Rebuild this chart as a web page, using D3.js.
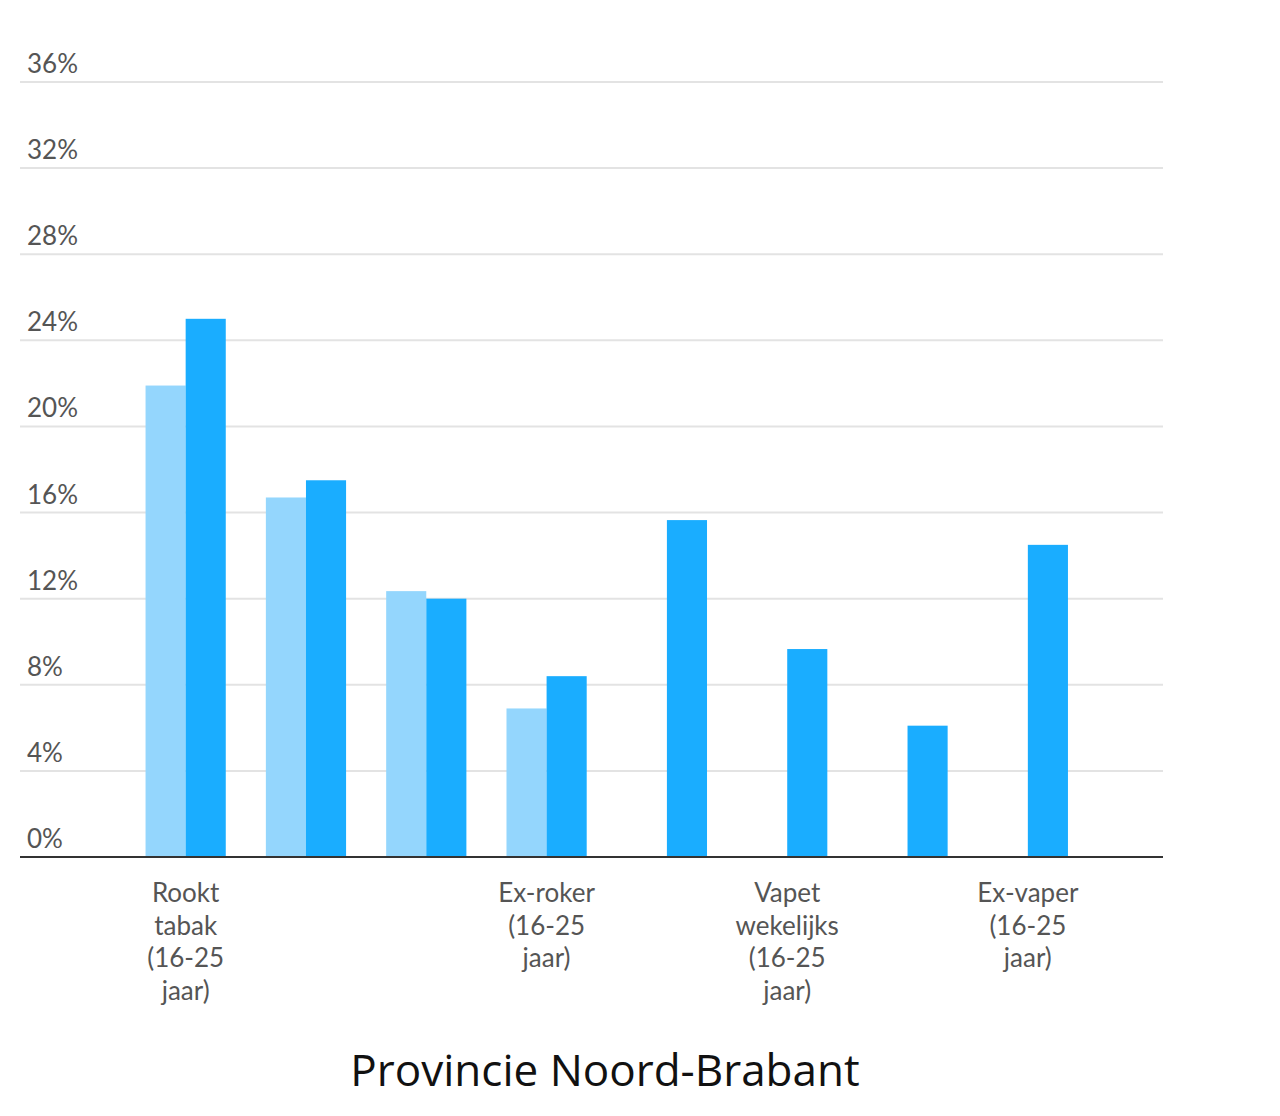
<!DOCTYPE html>
<html><head><meta charset="utf-8">
<script src="https://cdn.jsdelivr.net/npm/d3@7"></script>
<style>body{margin:0;background:#fff}svg{display:block}</style>
</head><body>
<svg id="c" width="1280" height="1116"></svg>
<script>
const categories = [
  "Rookt tabak (16-25 jaar)",
  "Rookt dagelijks (16-25 jaar)",
  "Rookt wekelijks (16-25 jaar)",
  "Ex-roker (16-25 jaar)",
  "Vapet ooit (16-25 jaar)",
  "Vapet wekelijks (16-25 jaar)",
  "Vapet dagelijks (16-25 jaar)",
  "Ex-vaper (16-25 jaar)"
];
const shownLabels = [true, false, false, true, false, true, false, true];
const seriesNames = ["Eerder", "Recent"];
const seriesLight = [21.9, 16.7, 12.35, 6.9, null, null, null, null];
const seriesDark  = [25.0, 17.5, 12.0, 8.4, 15.65, 9.66, 6.1, 14.5];
const yTicks = [0, 4, 8, 12, 16, 20, 24, 28, 32, 36];
const subtitle = "Provincie Noord-Brabant";
const colors = ["#94d6fd", "#1aadff"];

const svg = d3.select("#c");
const x = d3.scaleBand().domain(categories).range([125.5, 1088]).paddingInner(1/3).paddingOuter(1/6);
const xs = d3.scaleBand().domain(seriesNames).range([0, x.bandwidth()]);
const y = d3.scaleLinear().domain([0, 36]).range([857, 82]);

// gridlines
svg.append("g").selectAll("line").data(yTicks.filter(t => t > 0)).join("line")
  .attr("x1", 20).attr("x2", 1163)
  .attr("y1", d => y(d)).attr("y2", d => y(d))
  .attr("stroke", "#e3e3e3").attr("stroke-width", 2);

// y labels
svg.append("g").selectAll("text").data(yTicks).join("text")
  .attr("x", 27).attr("y", d => y(d) - 9)
  .attr("font-family", "Lato, 'Open Sans', sans-serif").attr("font-size", 26)
  .attr("fill", "#555").text(d => d + "%");

// bars
const series = [seriesLight, seriesDark];
series.forEach((vals, si) => {
  svg.append("g").selectAll("rect")
    .data(vals.map((v, i) => ({v, c: categories[i]})).filter(d => d.v != null))
    .join("rect")
    .attr("x", d => x(d.c) + xs(seriesNames[si]))
    .attr("width", xs.bandwidth())
    .attr("y", d => y(d.v))
    .attr("height", d => y(0) - y(d.v))
    .attr("fill", colors[si]);
});

// axis line
svg.append("line").attr("x1", 20).attr("x2", 1163).attr("y1", y(0)).attr("y2", y(0))
  .attr("stroke", "#333").attr("stroke-width", 2);

// category labels
const wrapMap = {
  "Rookt tabak (16-25 jaar)": ["Rookt", "tabak", "(16-25", "jaar)"],
  "Ex-roker (16-25 jaar)": ["Ex-roker", "(16-25", "jaar)"],
  "Vapet wekelijks (16-25 jaar)": ["Vapet", "wekelijks", "(16-25", "jaar)"],
  "Ex-vaper (16-25 jaar)": ["Ex-vaper", "(16-25", "jaar)"]
};
const lab = svg.append("g");
categories.forEach((c, i) => {
  if (!shownLabels[i]) return;
  const lines = wrapMap[c] || c.split(" ");
  const t = lab.append("text")
    .attr("x", x(c) + x.bandwidth() / 2).attr("y", 902)
    .attr("text-anchor", "middle")
    .attr("font-family", "Lato, 'Open Sans', sans-serif").attr("font-size", 26)
    .attr("fill", "#555");
  lines.forEach((l, k) => t.append("tspan").attr("x", x(c) + x.bandwidth() / 2).attr("dy", k ? 32.5 : 0).text(l));
});

// subtitle
svg.append("text").attr("x", 605).attr("y", 1086).attr("text-anchor", "middle")
  .attr("font-family", "'Open Sans', 'Noto Sans', sans-serif").attr("font-size", 44)
  .attr("fill", "#111").text(subtitle);
</script>
</body></html>
